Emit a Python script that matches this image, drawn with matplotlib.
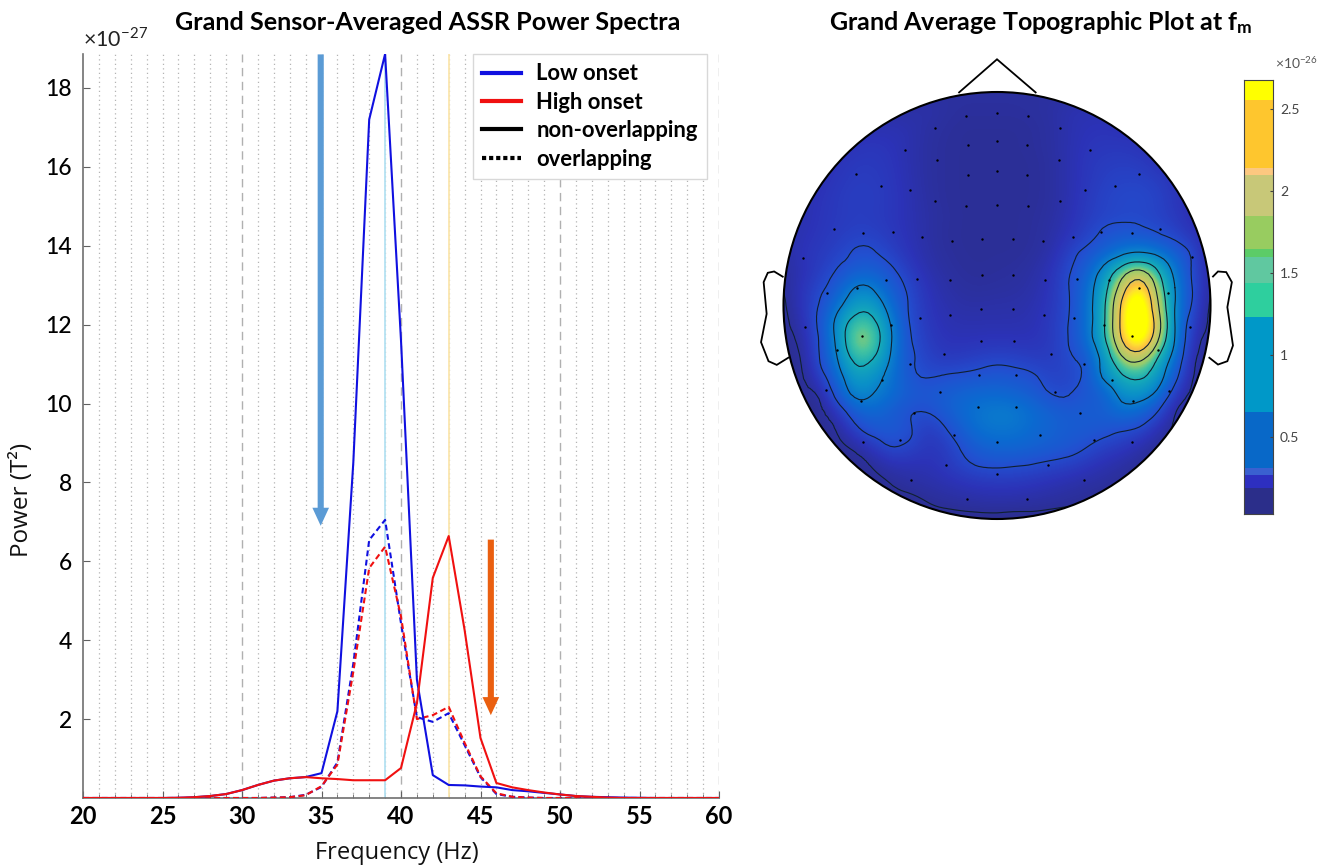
import numpy as np
import matplotlib
matplotlib.use("Agg")
import matplotlib.pyplot as plt
import matplotlib.tri as mtri
from matplotlib.colors import LinearSegmentedColormap, ListedColormap, BoundaryNorm
from matplotlib.lines import Line2D
from matplotlib.patches import Circle, Polygon

plt.rcParams['font.family'] = ['Lato', 'DejaVu Sans']
plt.rcParams['mathtext.fontset'] = 'custom'
plt.rcParams['mathtext.rm'] = 'Lato'
plt.rcParams['mathtext.bf'] = 'Lato:bold'

# power spectra, one value per Hz from 20 to 60, in units of 1e-27
freq = list(range(20, 61))
low_solid = [0, 0, 0, 0, 0, 0, 0.005, 0.02, 0.05, 0.1, 0.2, 0.33, 0.44, 0.5, 0.53, 0.63, 2.2, 8.5, 17.2, 18.86,
             11.6, 3.0, 0.58, 0.33, 0.32, 0.29, 0.27, 0.2, 0.17, 0.13, 0.09, 0.05, 0.03, 0.02, 0.01, 0.005,
             0, 0, 0, 0, 0]
high_solid = [0, 0, 0, 0, 0, 0, 0.005, 0.02, 0.05, 0.1, 0.2, 0.33, 0.44, 0.5, 0.53, 0.5, 0.48, 0.45, 0.45, 0.45,
              0.76, 2.4, 5.58, 6.64, 4.26, 1.52, 0.38, 0.27, 0.2, 0.14, 0.09, 0.05, 0.03, 0.01, 0, 0,
              0, 0, 0, 0, 0]
low_dash = [0, 0, 0, 0, 0, 0, 0, 0, 0, 0, 0, 0, 0.01, 0.02, 0.08, 0.28, 0.9, 3.4, 6.54, 7.05,
            4.43, 2.05, 1.93, 2.15, 1.34, 0.53, 0.1, 0.03, 0.01, 0, 0, 0, 0, 0, 0, 0,
            0, 0, 0, 0, 0]
high_dash = [0, 0, 0, 0, 0, 0, 0, 0, 0, 0, 0, 0, 0.01, 0.02, 0.07, 0.3, 0.85, 3.2, 5.83, 6.37,
             4.6, 2.0, 2.1, 2.31, 1.4, 0.55, 0.12, 0.03, 0.01, 0, 0, 0, 0, 0, 0, 0,
             0, 0, 0, 0, 0]
y_ticks = [2, 4, 6, 8, 10, 12, 14, 16, 18]
x_ticks = [20, 25, 30, 35, 40, 45, 50, 55, 60]

# topography, read on a 25 x 25 grid over the head box, in units of 1e-26
topo = np.array([
    [.13] * 25,
    [.15] * 8 + [.18, .14, .12, .12, .12, .12, .13, .15, .2, .22] + [.2] * 7,
    [.2] * 6 + [.22, .2, .15, .12, .1, .1, .1, .1, .11, .14, .2, .24, .25] + [.22] * 6,
    [.2] * 4 + [.25, .28, .25, .2, .14, .11, .1, .1, .1, .1, .11, .14, .2, .26, .28, .28, .25] + [.2] * 4,
    [.2] * 3 + [.25, .3, .3, .27, .2, .14, .11, .1, .1, .1, .1, .1, .13, .2, .28, .32, .34, .32, .25] + [.2] * 3,
    [.2] * 2 + [.22, .28, .32, .32, .28, .21, .14, .11, .1, .1, .1, .1, .1, .13, .2, .28, .35, .38, .38, .34, .25] + [.2] * 2,
    [.2, .2, .25, .3, .34, .33, .29, .22, .15, .11, .1, .1, .1, .1, .1, .13, .2, .3, .38, .42, .43, .38, .28, .18, .15],
    [.18, .2, .26, .3, .33, .32, .28, .22, .16, .12, .1, .1, .1, .1, .11, .14, .22, .32, .38, .41, .41, .37, .3, .2, .15],
    [.18, .22, .27, .32, .36, .36, .3, .23, .16, .11, .1, .1, .1, .1, .11, .16, .25, .36, .5, .56, .54, .47, .38, .25, .15],
    [.15, .25, .3, .36, .47, .47, .36, .25, .17, .12, .1, .1, .1, .1, .12, .18, .35, .5, .65, .8, .9, .8, .62, .4, .12],
    [.12, .22, .32, .46, .6, .62, .5, .32, .2, .14, .11, .1, .11, .12, .15, .24, .42, .62, 1.0, 1.5, 1.8, 1.35, .8, .42, .12],
    [.1, .25, .4, .6, .9, .88, .62, .42, .25, .17, .13, .12, .13, .14, .17, .26, .44, .72, 1.2, 2.0, 2.5, 1.7, .9, .44, .1],
    [.06, .26, .46, .78, 1.15, 1.15, .75, .45, .27, .2, .16, .16, .17, .17, .2, .28, .43, .75, 1.28, 2.3, 2.75, 1.9, .9, .42, .06],
    [.05, .2, .5, 1.0, 1.52, 1.47, .9, .47, .3, .22, .2, .2, .2, .2, .22, .3, .45, .75, 1.3, 2.35, 2.8, 2.05, .9, .32, .05],
    [.05, .14, .46, .98, 1.68, 1.62, .95, .5, .33, .25, .24, .25, .26, .25, .25, .3, .45, .72, 1.25, 2.2, 2.65, 1.85, .88, .22, .05],
    [.04, .1, .44, .88, 1.43, 1.36, .88, .52, .38, .3, .32, .36, .39, .37, .33, .32, .42, .55, 1.05, 1.7, 1.9, 1.35, .72, .15, .04],
    [.04, .07, .32, .72, 1.15, 1.05, .8, .55, .44, .47, .5, .53, .56, .53, .48, .38, .38, .52, .95, 1.3, 1.4, 1.1, .55, .1, .04],
    [.04, .05, .12, .55, .95, .9, .75, .6, .55, .62, .68, .72, .72, .68, .6, .46, .44, .55, .62, 1.0, 1.05, .8, .3, .06, .04],
    [.04, .04, .06, .25, .62, .7, .6, .48, .45, .58, .72, .82, .87, .85, .75, .65, .58, .6, .62, .75, .7, .45, .1, .05, .04],
    [.04, .04, .05, .1, .35, .54, .58, .5, .3, .4, .62, .78, .82, .8, .72, .66, .6, .58, .53, .47, .4, .2, .07, .04, .04],
    [.04, .04, .04, .05, .12, .26, .43, .38, .28, .3, .47, .62, .68, .68, .65, .6, .54, .45, .34, .28, .18, .09, .05, .04, .04],
    [.04, .04, .04, .04, .05, .1, .2, .22, .22, .28, .38, .46, .48, .46, .43, .38, .34, .27, .2, .15, .09, .05, .04, .04, .04],
    [.04, .04, .04, .04, .04, .05, .09, .14, .17, .2, .24, .27, .28, .28, .25, .22, .18, .15, .13, .09, .05, .04, .04, .04, .04],
    [.04, .04, .04, .04, .04, .04, .04, .05, .09, .12, .14, .16, .17, .16, .15, .13, .11, .09, .05, .04, .04, .04, .04, .04, .04],
    [.04] * 25,
])
contour_levels = [0.09, 0.45, 0.9, 1.35, 1.8, 2.25]

# sensors, head box scaled to -570..570 across and 155..1435 down
sensor_x = [660, 578, 743, 495, 827, 583, 660, 740, 415, 908, 499, 825, 660, 583, 740, 283, 1040, 350, 975, 427,
            895, 495, 827, 578, 660, 743, 226, 1095, 303, 1020, 382, 938, 461, 862, 541, 782, 620, 702, 143, 1180,
            364, 958, 447, 874, 535, 788, 620, 703, 206, 285, 1038, 1117, 455, 865, 535, 785, 618, 703, 377, 946,
            148, 1175, 300, 1021, 618, 705, 232, 1090, 518, 805, 429, 893, 612, 710, 354, 967, 203, 1118, 509, 814,
            298, 1023, 610, 711, 439, 882, 545, 776, 402, 920, 302, 1021, 661, 524, 797, 661, 431, 891, 581, 740]
sensor_y = [217, 228, 228, 262, 262, 313, 302, 313, 328, 328, 358, 358, 393, 405, 405, 402, 402, 438, 438, 450,
            450, 482, 482, 498, 494, 498, 565, 567, 579, 579, 575, 575, 590, 590, 603, 603, 597, 597, 652, 650,
            720, 720, 716, 716, 720, 718, 705, 705, 757, 742, 742, 757, 832, 832, 823, 823, 805, 805, 853, 853,
            860, 860, 887, 887, 902, 902, 927, 927, 940, 940, 970, 970, 1002, 1002, 1017, 1017, 1048, 1050, 1055, 1055,
            1081, 1081, 1100, 1100, 1117, 1117, 1183, 1183, 1198, 1198, 1205, 1205, 1205, 1274, 1273, 1300, 1317, 1317, 1375, 1375]

# colour bar bands as drawn in the reference
band_edges = [0.03, 0.19, 0.27, 0.31, 0.65, 1.23, 1.44, 1.6, 1.65, 1.85, 2.1, 2.14, 2.56, 2.68]
band_colors = ['#2b2e8a', '#2d2fc0', '#3a60d0', '#0868c8', '#0098c8', '#2ecf9e', '#60c8a0', '#5ccc68',
               '#98cc60', '#c8c878', '#fcc880', '#fec62e', '#ffff00']
cbar_ticks = [0.5, 1, 1.5, 2, 2.5]

W, H = 1334, 868
fig = plt.figure(figsize=(W / 100, H / 100), dpi=100)

# left panel
ax = fig.add_axes([83 / W, 1 - 798 / H, (719 - 83) / W, (798 - 54) / H])
for f in range(21, 60):
    if f % 10:
        ax.axvline(f, color='#b4b4b4', lw=0.9, ls=(0, (1, 2.6)), zorder=1)
    else:
        ax.axvline(f, color='#b0b0b0', lw=1.0, ls=(0, (6, 4)), zorder=1)
ax.axvline(60, color='#b0b0b0', lw=1.0, ls=(0, (6, 4)), zorder=1)
ax.axvline(39, color='#b5e2f2', lw=1.3, zorder=2)
ax.axvline(43, color='#fbe6ae', lw=1.3, zorder=2)

ax.plot(freq, low_dash, color='#1010e0', lw=1.5, ls=(0, (2.8, 1.7)), zorder=3)
ax.plot(freq, high_dash, color='#f01010', lw=1.5, ls=(0, (2.8, 1.7)), zorder=3)
ax.plot(freq, low_solid, color='#1010e0', lw=1.5, zorder=4)
ax.plot(freq, high_solid, color='#f01010', lw=1.5, zorder=4)

ax.annotate('', xy=(34.95, 6.9), xytext=(34.95, 18.85), zorder=5,
            arrowprops=dict(arrowstyle='simple,head_length=0.65,head_width=0.6,tail_width=0.22',
                            color='#5b9bd5', lw=0, shrinkA=0, shrinkB=0, mutation_scale=20))
ax.annotate('', xy=(45.65, 2.1), xytext=(45.65, 6.55), zorder=5,
            arrowprops=dict(arrowstyle='simple,head_length=0.65,head_width=0.6,tail_width=0.22',
                            color='#ea5f10', lw=0, shrinkA=0, shrinkB=0, mutation_scale=20))

ax.set_xlim(20, 60)
ax.set_ylim(0, 18.86)
ax.set_xticks(x_ticks)
ax.set_xticks(freq, minor=True)
ax.set_yticks(y_ticks)
ax.tick_params(axis='x', which='major', direction='in', length=5, color='#606060', labelsize=17, pad=5)
ax.tick_params(axis='x', which='minor', direction='in', length=3, color='#606060')
ax.tick_params(axis='y', direction='in', length=5, color='#606060', labelsize=16.5, pad=8)
for lab in ax.get_xticklabels():
    lab.set_fontweight('bold')
for lab in ax.get_yticklabels():
    lab.set_fontweight('medium')
for s in ['top', 'right']:
    ax.spines[s].set_visible(False)
for s in ['left', 'bottom']:
    ax.spines[s].set_color('#707070')
    ax.spines[s].set_linewidth(1.2)

handles = [Line2D([], [], color='#1010e0', lw=3), Line2D([], [], color='#f01010', lw=3),
           Line2D([], [], color='k', lw=3), Line2D([], [], color='k', lw=3, ls=(0, (1, 0.7)))]
leg = ax.legend(handles, ['Low onset', 'High onset', 'non-overlapping', 'overlapping'],
                loc='upper left', bbox_to_anchor=((473 - 83) / 636, 1.0), borderaxespad=0,
                fancybox=False, framealpha=1, edgecolor='#d8d8d8',
                prop={'family': 'Lato', 'weight': 'bold', 'size': 15.8},
                handlelength=1.75, handletextpad=0.72, labelspacing=0.34, borderpad=0.42)
leg.set_zorder(6)

# everything else is placed in picture pixels
ov = fig.add_axes([0, 0, 1, 1], facecolor='none')
ov.set_xlim(0, W)
ov.set_ylim(H, 0)
ov.axis('off')

ov.text(428, 22, 'Grand Sensor-Averaged ASSR Power Spectra', ha='center', va='center',
        fontsize=18.1, fontweight='bold')
ov.text(83, 39, r'$\times10^{-27}$', ha='left', va='center', fontsize=15.5, color='#222222')
ov.text(397, 853, 'Frequency (Hz)', ha='center', va='center', fontsize=17, family='Open Sans', color='#111111')
ov.text(22, 500, 'Power (T²)', ha='center', va='center', rotation=90, fontsize=17.5, family='Open Sans', color='#111111')
ov.text(1041, 22, r'Grand Average Topographic Plot at $\mathbf{f_m}$', ha='center', va='center',
        fontsize=18, fontweight='bold')

# head
x0, x1, y0, y1 = 783.5, 1210.5, 92.0, 519.0
cx, cy, r = (x0 + x1) / 2, (y0 + y1) / 2, (x1 - x0) / 2
dx, dy = (x1 - x0) / 24, (y1 - y0) / 24
sx = (x1 - x0) / 1140
sy = (y1 - y0) / 1280
parula = LinearSegmentedColormap.from_list('topo', [
    (0.0, '#2b2e8a'), (0.08, '#2c33b8'), (0.17, '#2250d0'), (0.27, '#0a6cd0'), (0.37, '#0a90c8'),
    (0.47, '#16aab8'), (0.55, '#45c4a0'), (0.61, '#98cc6c'), (0.74, '#d0c860'), (0.8, '#fcc040'),
    (0.85, '#fee030'), (0.9, '#ffff00'), (1.0, '#ffff00')])
head_clip = Circle((cx, cy), r, transform=ov.transData)
im = ov.imshow(topo, extent=(x0 - dx / 2, x1 + dx / 2, y1 + dy / 2, y0 - dy / 2), origin='upper',
               cmap=parula, vmin=0.03, vmax=2.68, aspect='auto', interpolation='bicubic')
im.set_clip_path(head_clip)
ov.set_xlim(0, W)
ov.set_ylim(H, 0)

gx, gy = np.meshgrid(np.linspace(x0, x1, 25), np.linspace(y0, y1, 25))
tri = mtri.Triangulation(gx.ravel(), gy.ravel())
refiner = mtri.UniformTriRefiner(tri)
tri_fine, z_fine = refiner.refine_field(topo.ravel(), subdiv=2)
cs = ov.tricontour(tri_fine, z_fine, levels=contour_levels, colors='#102030', linewidths=0.8)
cs.set_clip_path(Circle((cx, cy), r, transform=ov.transData))

ov.scatter([x0 + sx * v for v in np.array(sensor_x) - 90], [y0 + sy * (v - 155) for v in sensor_y],
           s=3, color='k', zorder=6, linewidths=0)

ov.add_patch(Circle((cx, cy), r, fill=False, ec='k', lw=1.5, zorder=7))
nose = [(557, 158), (660, 57), (765, 158)]
ear_l = [(90, 710), (65, 693), (48, 697), (37, 725), (45, 820), (30, 905), (50, 962), (72, 973), (105, 950)]
ear_r = [(1235, 710), (1250, 693), (1272, 695), (1287, 725), (1275, 800), (1290, 915), (1275, 962), (1250, 972), (1225, 950)]
for shape in (nose, ear_l, ear_r):
    pts = [(x0 + sx * (a - 90), y0 + sy * (b - 155)) for a, b in shape]
    ov.add_patch(Polygon(pts, closed=False, fill=False, ec='k', lw=1.3, zorder=7))

# colour bar
cb = fig.add_axes([1244 / W, 1 - 514 / H, (1273 - 1244) / W, (514 - 80) / H])
cb.pcolormesh([0, 1], band_edges, np.array(band_edges[:-1])[:, None] + 1e-3,
              cmap=ListedColormap(band_colors), norm=BoundaryNorm(band_edges, len(band_colors)))
cb.set_xticks([])
cb.yaxis.tick_right()
cb.set_yticks(cbar_ticks)
cb.set_yticklabels(['0.5', '1', '1.5', '2', '2.5'])
cb.tick_params(axis='y', direction='in', length=2, labelsize=10, pad=5, labelcolor='#444444', color='#444444')
for s in cb.spines.values():
    s.set_color('#444444')
    s.set_linewidth(0.8)
ov.text(1275, 63, r'$\times10^{-26}$', ha='left', va='center', fontsize=10, color='#555555')

fig.savefig('out.png', dpi=100)
